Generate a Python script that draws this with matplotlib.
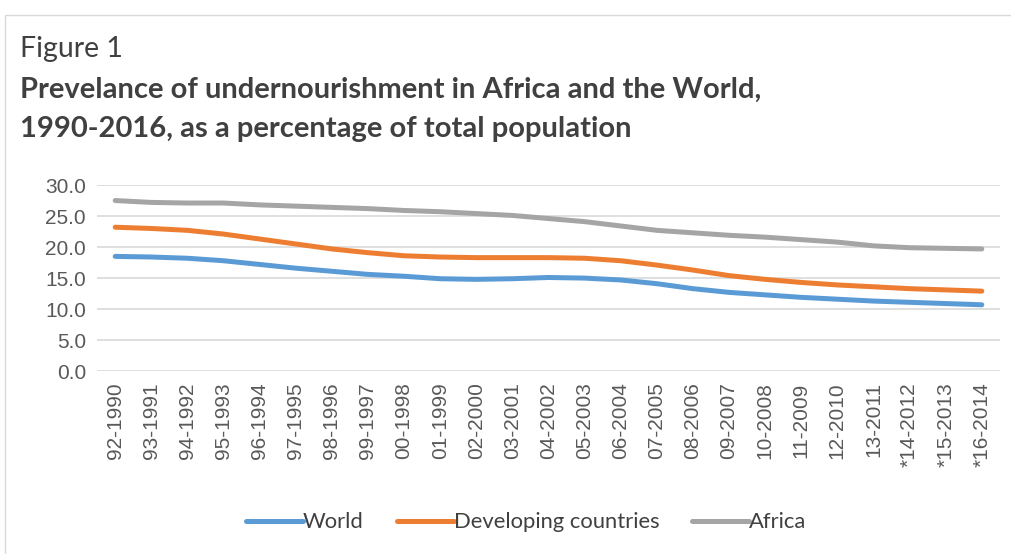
import matplotlib.pyplot as plt
from matplotlib.patches import Rectangle
from matplotlib.lines import Line2D

periods = ['92-1990', '93-1991', '94-1992', '95-1993', '96-1994', '97-1995',
           '98-1996', '99-1997', '00-1998', '01-1999', '02-2000', '03-2001',
           '04-2002', '05-2003', '06-2004', '07-2005', '08-2006', '09-2007',
           '10-2008', '11-2009', '12-2010', '13-2011', '*14-2012', '*15-2013',
           '*16-2014']

world = [18.5, 18.4, 18.2, 17.8, 17.2, 16.6, 16.1, 15.6, 15.3, 14.9, 14.8, 14.9,
         15.1, 15.0, 14.7, 14.1, 13.3, 12.7, 12.3, 11.9, 11.6, 11.3, 11.1, 10.9, 10.7]
developing = [23.2, 23.0, 22.7, 22.1, 21.3, 20.5, 19.7, 19.1, 18.6, 18.4, 18.3, 18.3,
              18.3, 18.2, 17.8, 17.1, 16.3, 15.4, 14.8, 14.3, 13.9, 13.6, 13.3, 13.1, 12.9]
africa = [27.5, 27.2, 27.1, 27.1, 26.8, 26.6, 26.4, 26.2, 25.9, 25.7, 25.4, 25.1,
          24.6, 24.1, 23.4, 22.7, 22.3, 21.9, 21.6, 21.2, 20.8, 20.2, 19.9, 19.8, 19.7]

series = [('World', world, '#5b9bd5'),
          ('Developing countries', developing, '#ed7d31'),
          ('Africa', africa, '#a5a5a5')]

fig = plt.figure(figsize=(10.12, 5.54), dpi=100)

# light frame round the chart area
fig.patches.append(Rectangle((0.005, -0.01), 1.1, 0.983, transform=fig.transFigure,
                             fill=False, edgecolor='#d9d9d9', lw=1))

fig.text(0.02, 0.911, 'Figure 1', fontsize=20.5, family='Lato', color='#404040', va='center')
fig.text(0.02, 0.838, 'Prevelance of undernourishment in Africa and the World,',
         fontsize=21, family='Lato', weight='bold', color='#404040', va='center')
fig.text(0.02, 0.768, '1990-2016, as a percentage of total population',
         fontsize=21, family='Lato', weight='bold', color='#404040', va='center')

ax = fig.add_axes([0.096, 0.330, 0.892, 0.336])
x = range(len(periods))
for name, vals, col in series:
    ax.plot(x, vals, color=col, lw=3.6, solid_capstyle='round', label=name)

ax.set_xlim(-0.5, len(periods) - 0.5)
ax.set_ylim(0, 30)
ax.set_yticks([0, 5, 10, 15, 20, 25, 30])
ax.set_yticklabels([f'{v:.1f}' for v in [0, 5, 10, 15, 20, 25, 30]],
                   family='Liberation Sans', fontsize=15, color='#595959')
ax.set_xticks(list(x))
ax.set_xticklabels(periods, rotation=90, family='Liberation Sans', fontsize=15,
                   color='#595959')
ax.tick_params(length=0, pad=8)
ax.grid(axis='y', color='#d9d9d9', lw=1.2)
ax.set_axisbelow(True)
for s in ax.spines.values():
    s.set_visible(False)

handles = [Line2D([], [], color=c, lw=3.6, solid_capstyle='round') for _, _, c in series]
fig.legend(handles, [n for n, _, _ in series], loc='center', bbox_to_anchor=(0.52, 0.057),
           ncol=3, frameon=False, handlelength=2.6, handletextpad=0.0, columnspacing=1.5,
           prop={'family': 'Lato', 'size': 15.8}, labelcolor='#404040')

fig.savefig('out.png', dpi=100, facecolor='white')
